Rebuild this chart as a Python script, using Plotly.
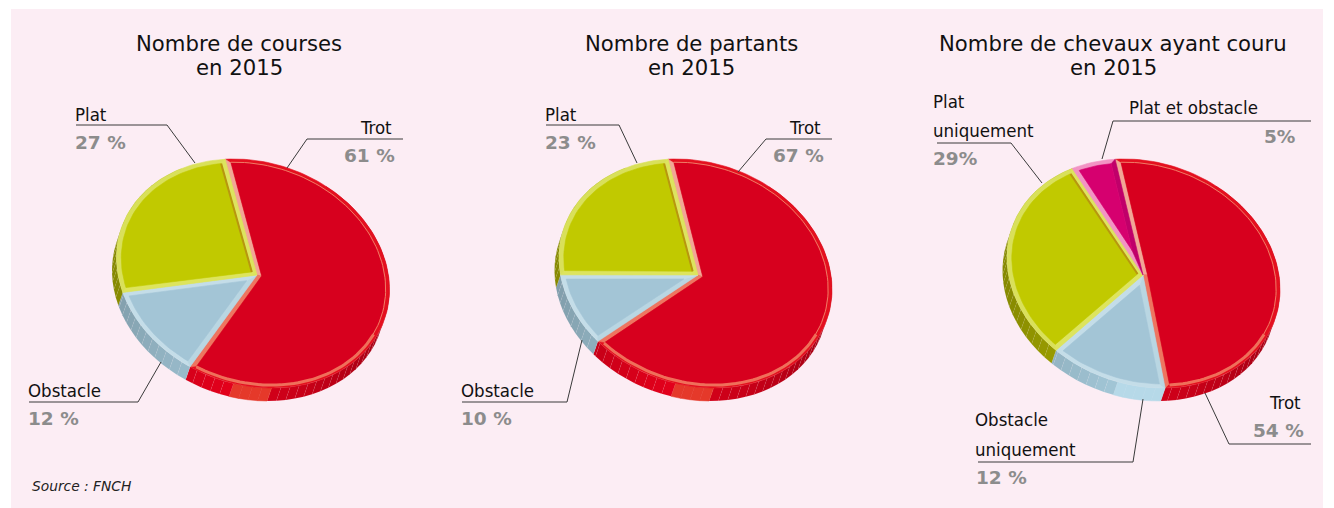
import math
import plotly.graph_objects as go

# ---- data ----
SLICES_COURSES = ["Trot", "Obstacle", "Plat"]
DRAWN_COURSES = [60.9, 12.5, 26.6]
SLICES_PARTANTS = ["Trot", "Obstacle", "Plat"]
DRAWN_PARTANTS = [65.9, 9.9, 24.2]
SLICES_CHEVAUX = ["Trot", "Obstacle uniquement", "Plat uniquement", "Plat et obstacle"]
DRAWN_CHEVAUX = [50.8, 13.6, 30.2, 5.4]

TITLES = [("Nombre de courses", "en 2015"), ("Nombre de partants", "en 2015"),
          ("Nombre de chevaux ayant couru", "en 2015")]
SOURCE = "Source : FNCH"

# ---- geometry and style ----
W, H = 1334, 508
SX, SY, SHEAR, DEPTH, RIM_DX = 136.5, 114.5, 16.0, 13.0, -4.5
PANEL = "#FCEDF4"
STYLE = {
    "Trot": dict(top="#D7001E", band="#E4101F", r0="#F2A696", r1="#EE7560",
                 rim=(230, 0, 28), hi="#E5392A", edge=None),
    "Obstacle": dict(top="#A3C5D6", band="#C4DDE8", r0="#B9D6E2", r1="#C4DDE8",
                     rim=(165, 202, 219), hi="#B6D9E8", edge=None),
    "Plat": dict(top="#C1C900", band="#D9E05A", r0="#DDE45E", r1="#DDE45E",
                 rim=(172, 176, 0), hi="#B4B800", edge="#B8960F"),
    "Magenta": dict(top="#D6006F", band="#F294C4", r0="#F294C4", r1="#C0006A",
                    rim=(190, 0, 100), hi="#D6006F", edge=None),
}
def style_for(name):
    if name.startswith("Trot"): return STYLE["Trot"]
    if name.startswith("Obstacle"): return STYLE["Obstacle"]
    if name == "Plat et obstacle": return STYLE["Magenta"]
    return STYLE["Plat"]

PIES = [
    dict(names=SLICES_COURSES, shares=DRAWN_COURSES, cx=253, cy=273.5, apex=(257, 275), start=-11.8),
    dict(names=SLICES_PARTANTS, shares=DRAWN_PARTANTS, cx=695.5, cy=273.5, apex=(698, 275), start=-11.6),
    dict(names=SLICES_CHEVAUX, shares=DRAWN_CHEVAUX, cx=1143.5, cy=273.5, apex=(1143, 275), start=-12.0),
]

HH = math.sqrt(SY ** 2 - SHEAR ** 2)
def pt(p, deg, scale=1.0, dx=0.0, dy=0.0):
    t = math.radians(deg)
    return (p["cx"] + scale * SX * math.sin(t) + dx,
            p["cy"] + scale * (SHEAR * math.sin(t) - HH * math.cos(t)) + dy)

def arc(p, a, b, scale=1.0, dx=0.0, dy=0.0, step=2.0):
    n = max(2, int(abs(b - a) / step) + 1)
    return [pt(p, a + (b - a) * i / n, scale, dx, dy) for i in range(n + 1)]

fig = go.Figure()

def poly(points, fill, name=None, line=None, lw=0.6):
    fig.add_trace(go.Scatter(
        x=[q[0] for q in points] + [points[0][0]],
        y=[q[1] for q in points] + [points[0][1]],
        mode="lines", fill="toself", fillcolor=fill,
        line=dict(color=line or fill, width=lw),
        hoverinfo="text" if name else "skip", text=name, showlegend=False))

def stroke(points, color, width):
    fig.add_trace(go.Scatter(x=[q[0] for q in points], y=[q[1] for q in points], mode="lines",
                             line=dict(color=color, width=width), hoverinfo="skip", showlegend=False))

def shade(rgb, k):
    return "rgb(%d,%d,%d)" % tuple(min(255, int(c * k)) for c in rgb)

for p in PIES:
    total = sum(p["shares"])
    ranges, a = [], p["start"]
    for s in p["shares"]:
        b = a + 360.0 * s / total
        ranges.append((a, b))
        a = b
    # extruded side, segment by segment
    for name, (a, b) in zip(p["names"], ranges):
        st = style_for(name)
        seg = a
        while seg < b - 1e-6:
            nxt = min(seg + 4.0, b)
            mid = (seg + nxt) / 2
            t = math.radians(mid)
            s, c = math.sin(t), math.cos(t)
            if c < 0.85:
                if -0.17 < s < 0.14:
                    col = st["hi"]
                    ln = col
                else:
                    col = shade(st["rim"], 1.0 - 0.22 * abs(s) ** 1.5 - (0.08 if s > 0 else 0))
                    ln = "rgba(255,255,255,0.07)"
                poly(arc(p, seg, nxt) + arc(p, nxt, seg, dx=RIM_DX, dy=DEPTH), col, line=ln, lw=0.5)
            seg = nxt
    # top faces: bevel band, then radial edges, then inner face
    ax, ay = p["apex"]
    for name, (a, b) in zip(p["names"], ranges):
        poly([(ax, ay)] + arc(p, a, b), style_for(name)["band"], name=name)
    for name, (a, b) in zip(p["names"], ranges):
        st = style_for(name)
        mx, my = pt(p, (a + b) / 2)
        L = math.hypot(mx - ax, my - ay)
        half = math.radians((b - a) / 2)
        d = 4.5 / max(math.sin(half), 0.15)
        ix, iy = ax + (mx - ax) / L * d, ay + (my - ay) / L * d
        poly([(ax, ay), pt(p, a), pt(p, a + 2.2, 0.965), (ix, iy)], st["r0"])
        poly([(ax, ay), pt(p, b), pt(p, b - 2.2, 0.965), (ix, iy)], st["r1"])
        poly([(ix, iy)] + arc(p, a + 2.2, b - 2.2, scale=0.965), st["top"], name=name)
        if name.startswith("Trot"):
            stroke(arc(p, a + 2.2, b - 2.2, scale=0.972), "#EF7A66", 1)
            lo = max(a + 2.2, 115)
            if lo < b - 2.2:
                stroke(arc(p, lo, b - 2.2, scale=0.975), "#EF6F5A", 3)
        if st["edge"]:
            stroke([(ix, iy), pt(p, b - 2.2, 0.965)], st["edge"], 2)

# ---- leader lines ----
LEADERS = [
    [(76, 125), (167, 125), (195, 163)],
    [(403, 139), (307, 139), (287, 168)],
    [(29, 402), (138, 402), (161, 362)],
    [(546, 125), (619, 125), (637, 163)],
    [(832, 139), (766, 139), (738, 172)],
    [(462, 402), (567, 402), (582, 340)],
    [(937, 143), (1011, 143), (1042, 183)],
    [(1311, 121), (1113, 121), (1102, 159)],
    [(1311, 444), (1229, 444), (1205, 393)],
    [(978, 462), (1133, 462), (1143, 399)],
]
for l in LEADERS:
    stroke(l, "#3A3A3A", 1)

# ---- texts ----
NARROW = dict(family="DejaVu Sans Condensed", size=18.5, color="#111111")
PCT = dict(family="DejaVu Sans", size=18.5, color="#8C8C8C", weight="bold")
TXT = [
    ("Plat", 75, 114, "left", NARROW), ("27 %", 75, 142, "left", PCT),
    ("Trot", 392, 127, "right", NARROW), ("61 %", 395, 155, "right", PCT),
    ("Obstacle", 28, 390, "left", NARROW), ("12 %", 28, 418, "left", PCT),
    ("Plat", 545, 114, "left", NARROW), ("23 %", 545, 142, "left", PCT),
    ("Trot", 821, 127, "right", NARROW), ("67 %", 824, 155, "right", PCT),
    ("Obstacle", 461, 390, "left", NARROW), ("10 %", 461, 418, "left", PCT),
    ("Plat", 933, 101, "left", NARROW), ("uniquement", 933, 130, "left", NARROW), ("29%", 933, 158, "left", PCT),
    ("Plat et obstacle", 1129, 107, "left", NARROW), ("5%", 1295, 136, "right", PCT),
    ("Trot", 1301, 402, "right", NARROW), ("54 %", 1304, 430, "right", PCT),
    ("Obstacle", 975, 419, "left", NARROW), ("uniquement", 975, 449, "left", NARROW), ("12 %", 976, 477, "left", PCT),
]
ann = [dict(x=x, y=y, text=t, xref="x", yref="y", showarrow=False, xanchor=anc, yanchor="middle",
            font=f, borderpad=0, borderwidth=0) for t, x, y, anc, f in TXT]
TITLE_FONT = dict(family="DejaVu Sans", size=21.2, color="#111111")
for (l1, l2), x in zip(TITLES, [239, 691, 1113]):
    for text, y in ((l1, 43), (l2, 67)):
        ann.append(dict(x=x, y=y, text=text, xref="x", yref="y", showarrow=False, xanchor="center",
                        yanchor="middle", font=TITLE_FONT))
ann.append(dict(x=30, y=486, text="<i>%s</i>" % SOURCE, xref="x", yref="y", showarrow=False, xanchor="left",
                yanchor="middle", font=dict(family="DejaVu Sans", size=13.8, color="#222222")))

fig.update_layout(
    width=W, height=H, margin=dict(l=0, r=0, t=0, b=0), autosize=False,
    paper_bgcolor="white", plot_bgcolor="white", showlegend=False, annotations=ann,
    xaxis=dict(range=[0, W], visible=False, fixedrange=True),
    yaxis=dict(range=[H, 0], visible=False, fixedrange=True),
    shapes=[dict(type="rect", xref="x", yref="y", x0=11, x1=1323, y0=9, y1=508,
                 fillcolor=PANEL, line_width=0, layer="below")],
)
fig.write_html("out.html", config=dict(displayModeBar=False),
               post_script="document.body.style.margin='0';document.documentElement.style.overflow='hidden';")
